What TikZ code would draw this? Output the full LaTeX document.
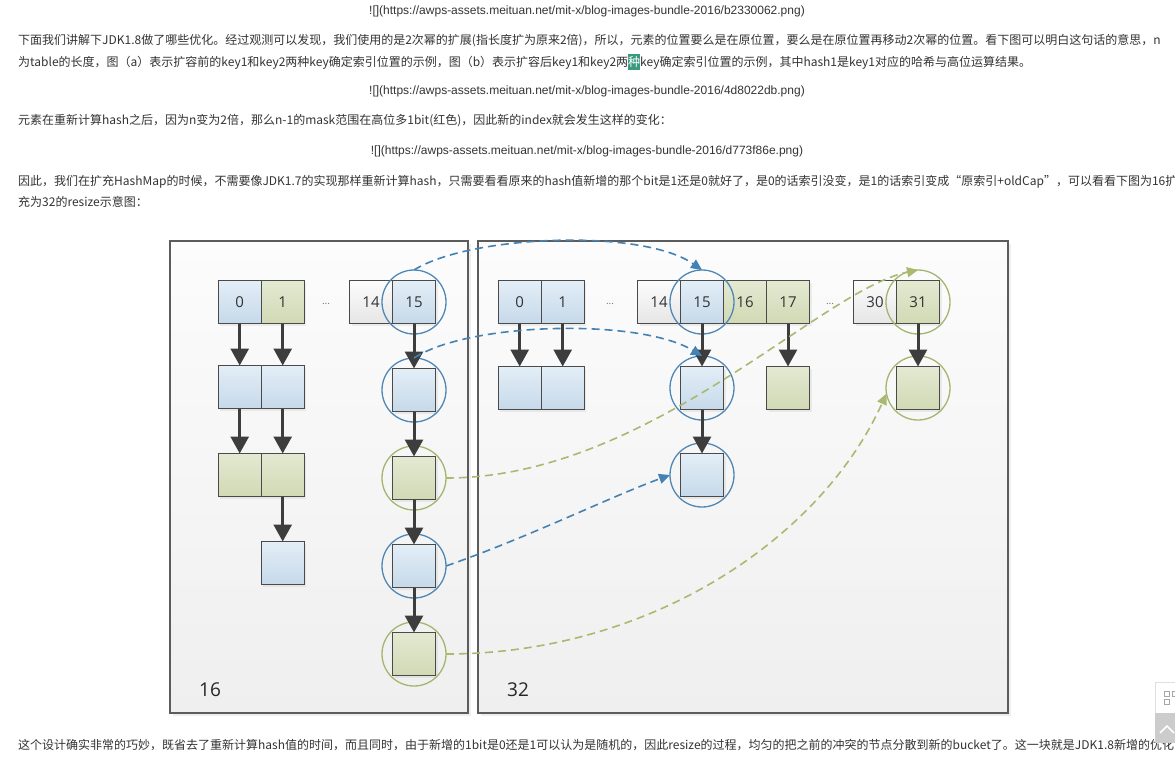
\documentclass[tikz,border=0pt]{standalone}
\usepackage{fontspec}
\usepackage{xcolor}
\setmainfont{Noto Sans CJK SC}
\newfontfamily\cellfont{Open Sans}
\newfontfamily\urlfont{Liberation Sans}
\usetikzlibrary{positioning,arrows.meta,shadows}

\definecolor{bodytext}{HTML}{333333}
\definecolor{cellline}{HTML}{4A4A4A}
\definecolor{bluetop}{HTML}{E3EEF7}
\definecolor{bluebot}{HTML}{C6D9EA}
\definecolor{greentop}{HTML}{E4E9D2}
\definecolor{greenbot}{HTML}{D1D9B4}
\definecolor{greytop}{HTML}{FCFCFC}
\definecolor{greybot}{HTML}{E6E6E6}
\definecolor{ringblue}{HTML}{4F87B6}
\definecolor{ringgreen}{HTML}{A4B56D}
\definecolor{dashblue}{HTML}{4482B4}
\definecolor{dashgreen}{HTML}{A8BA70}
\definecolor{arrowgrey}{HTML}{3D3D3D}
\definecolor{paneltop}{HTML}{FCFCFC}
\definecolor{panelbot}{HTML}{EFEFEF}
\definecolor{panelline}{HTML}{5C5C5C}
\definecolor{selhl}{HTML}{3A9A80}

\newcommand{\hlchar}[1]{{\setlength{\fboxsep}{0pt}\colorbox{selhl}{\rule[-3.5pt]{0pt}{16pt}\textcolor{white}{#1}}}}

\tikzset{
	bodyline/.style={anchor=west, inner sep=0pt, text=bodytext, font=\fontsize{12}{14}\selectfont},
	urlline/.style={inner sep=0pt, text=bodytext, font=\urlfont\fontsize{12}{14}\selectfont},
	panel/.style={draw=panelline, line width=1.5pt, top color=paneltop, bottom color=panelbot,
		anchor=north west, inner sep=0pt, outer sep=0pt,
		drop shadow={shadow xshift=3pt, shadow yshift=-3pt, opacity=0.12}},
	cell/.style={draw=cellline, line width=1.4pt, minimum width=43pt, minimum height=43pt,
		inner sep=0pt, outer sep=0pt, text=black!80, font=\cellfont\fontsize{15}{15}\selectfont,
		drop shadow={shadow xshift=2pt, shadow yshift=-2pt, opacity=0.12}},
	bluecell/.style={cell, top color=bluetop, bottom color=bluebot},
	greencell/.style={cell, top color=greentop, bottom color=greenbot},
	greycell/.style={cell, top color=greytop, bottom color=greybot},
	ring/.style={circle, minimum size=64pt, inner sep=0pt, outer sep=0pt, line width=1.3pt},
	bluering/.style={ring, draw=ringblue},
	greenring/.style={ring, draw=ringgreen},
	dotsmark/.style={text=black!55, font=\cellfont\fontsize{10}{10}\selectfont},
	sizelabel/.style={text=black!85, font=\cellfont\fontsize{19}{19}\selectfont},
	flow/.style={draw=arrowgrey, line width=3pt, -{Triangle[length=17pt,width=18pt]}},
	moveblue/.style={draw=dashblue, line width=1.6pt, dash pattern=on 8pt off 5pt,
		-{Triangle[length=11pt,width=10pt]}},
	movegreen/.style={draw=dashgreen, line width=1.6pt, dash pattern=on 8pt off 5pt,
		-{Triangle[length=11pt,width=10pt]}}
}

\begin{document}
\begin{tikzpicture}[x=1pt, y=-1pt]
	\fill[white] (0,0) rectangle (1175,756);
	\useasboundingbox (0,0) rectangle (1175,756);
	
	% the page text
	\node[urlline] (url1) at (587,11) {![](https://awps-assets.meituan.net/mit-x/blog-images-bundle-2016/b2330062.png)};
	\node[bodyline] (para1a) at (18,41) {下面我们讲解下JDK1.8做了哪些优化。经过观测可以发现，我们使用的是2次幂的扩展(指长度扩为原来2倍)，所以，元素的位置要么是在原位置，要么是在原位置再移动2次幂的位置。看下图可以明白这句话的意思，n};
	\node[bodyline] (para1b) at (18,62) {为table的长度，图（a）表示扩容前的key1和key2两种key确定索引位置的示例，图（b）表示扩容后key1和key2两\hlchar{种}key确定索引位置的示例，其中hash1是key1对应的哈希与高位运算结果。};
	\node[urlline] (url2) at (587,91) {![](https://awps-assets.meituan.net/mit-x/blog-images-bundle-2016/4d8022db.png)};
	\node[bodyline] (para2) at (18,121) {元素在重新计算hash之后，因为n变为2倍，那么n-1的mask范围在高位多1bit(红色)，因此新的index就会发生这样的变化：};
	\node[urlline] (url3) at (587,151) {![](https://awps-assets.meituan.net/mit-x/blog-images-bundle-2016/d773f86e.png)};
	\node[bodyline] (para3a) at (18,182) {因此，我们在扩充HashMap的时候，不需要像JDK1.7的实现那样重新计算hash，只需要看看原来的hash值新增的那个bit是1还是0就好了，是0的话索引没变，是1的话索引变成“原索引+oldCap”，可以看看下图为16扩};
	\node[bodyline] (para3b) at (18,202) {充为32的resize示意图：};
	\node[bodyline] (para4) at (18,745) {这个设计确实非常的巧妙，既省去了重新计算hash值的时间，而且同时，由于新增的1bit是0还是1可以认为是随机的，因此resize的过程，均匀的把之前的冲突的节点分散到新的bucket了。这一块就是JDK1.8新增的优化};
	
	% the two tables
	\node[panel, minimum width=298pt, minimum height=472pt] (old) at (170,241) {};
	\node[panel, minimum width=530pt, minimum height=472pt] (new) at (478,241) {};
	\node[sizelabel] (oldsize) at (210,690) {16};
	\node[sizelabel] (newsize) at (518,690) {32};
	
	% table of 16
	\node[bluecell] (c0) at (239.7,302) {0};
	\node[greencell, right=0pt of c0] (c1) {1};
	\node[dotsmark] (cdots) at (326,304) {...};
	\node[greycell] (c14) at (371,302) {14};
	\node[bluecell, right=0pt of c14] (c15) {15};
	
	\node[bluecell, below=42pt of c0] (n0) {};
	\node[bluecell, right=0pt of n0] (n1) {};
	\node[greencell, below=45pt of n0] (q0) {};
	\node[greencell, right=0pt of q0] (q1) {};
	\node[bluecell, below=45pt of q1] (t1) {};
	
	\node[bluecell, below=45pt of c15] (a1) {};
	\node[greencell, below=45pt of a1] (a2) {};
	\node[bluecell, below=45pt of a2] (a3) {};
	\node[greencell, below=45pt of a3] (a4) {};
	
	% table of 32
	\node[bluecell] (r0) at (519.7,302) {0};
	\node[bluecell, right=0pt of r0] (r1) {1};
	\node[dotsmark] (rdots1) at (610,304) {...};
	\node[greycell] (r14) at (659,302) {14};
	\node[bluecell, right=0pt of r14] (r15) {15};
	\node[greencell, right=0pt of r15] (r16) {16};
	\node[greencell, right=0pt of r16] (r17) {17};
	\node[dotsmark] (rdots2) at (830,304) {...};
	\node[greycell] (r30) at (875,302) {30};
	\node[greencell, right=0pt of r30] (r31) {31};
	
	\node[bluecell, below=43pt of r0] (s0) {};
	\node[bluecell, right=0pt of s0] (s1) {};
	\node[bluecell, below=43pt of r15] (s15) {};
	\node[bluecell, below=44pt of s15] (u15) {};
	\node[greencell, below=43pt of r17] (s17) {};
	\node[greencell, below=43pt of r31] (s31) {};
	
	% rings round the moved entries
	\node[bluering] (k15) at (c15) {};
	\node[bluering] (ka1) at (a1) {};
	\node[greenring] (ka2) at (a2) {};
	\node[bluering] (ka3) at (a3) {};
	\node[greenring] (ka4) at (a4) {};
	\node[bluering] (m15) at (r15) {};
	\node[bluering] (ms15) at (s15) {};
	\node[bluering] (mu15) at (u15) {};
	\node[greenring] (m31) at (r31) {};
	\node[greenring] (ms31) at (s31) {};
	
	% the chains
	\foreach \from/\to in {c0/n0, c1/n1, n0/q0, n1/q1, q1/t1, c15/a1, a1/a2, a2/a3, a3/a4,
		r0/s0, r1/s1, r15/s15, s15/u15, r17/s17, r31/s31}
		\draw[flow] (\from) -- (\to);
	
	% where the entries go
	\draw[moveblue] (k15.north) .. controls +(56,-35) and +(-60,-42) .. (m15.north);
	\draw[moveblue] (ka1.north) .. controls +(55,-36) and +(-62,-38) .. (ms15.north);
	\draw[moveblue] (ka3.east) .. controls +(83,-29) and +(-60,22) .. (mu15.west);
	\draw[movegreen] (ka2.east) .. controls +(203,0) and +(-98,20) .. (m31.north);
	\draw[movegreen] (ka4.east) .. controls +(203,0) and +(-66,146) .. (ms31.190);
	
	% side buttons of the page
	\fill[white] (1155,682) rectangle (1176,713);
	\draw[black!12] (1155,682) rectangle (1176,713);
	\draw[black!35, line width=1pt] (1164,691) rectangle (1169,696) (1164,699) rectangle (1169,704) (1172,691) rectangle (1177,696);
	\fill[black!20] (1155,713) rectangle (1176,743);
	\draw[white, line width=1.5pt] (1160,733) -- (1167,726) -- (1174,733);
\end{tikzpicture}
\end{document}
